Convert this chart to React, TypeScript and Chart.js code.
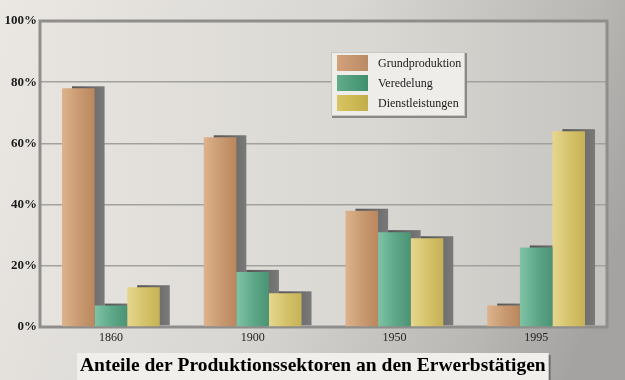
import React, { useEffect, useRef } from "react";
import { Chart, registerables } from "chart.js";

Chart.register(...registerables);

const categories = ["1860", "1900", "1950", "1995"];
const grundproduktion = [78, 62, 38, 7];
const veredelung = [7, 18, 31, 26];
const dienstleistungen = [13, 11, 29, 64];
const seriesNames = ["Grundproduktion", "Veredelung", "Dienstleistungen"];
const yTickValues = [0, 20, 40, 60, 80, 100];
const chartTitle = "Anteile der Produktionssektoren an den Erwerbstätigen";

const barColors = [
  ["#ddb38d", "#c99b72", "#bb875d"],
  ["#80c3a5", "#5fa98a", "#4a9475"],
  ["#e6d78e", "#d6c46c", "#c6b256"],
];
const legendColors = [
  ["#d3a27c", "#b98a64"],
  ["#62ac8a", "#3f8f6d"],
  ["#d8c563", "#c2ae48"],
];

const SERIF = "'Liberation Serif', 'Times New Roman', serif";

const decoPlugin = {
  id: "deco",
  beforeDraw(chart: any) {
    const { ctx, width, height, chartArea: a } = chart;
    ctx.save();
    const bg = ctx.createLinearGradient(0, 0, width, height * 0.6);
    bg.addColorStop(0, "#ebe8e4");
    bg.addColorStop(0.5, "#d9d7d3");
    bg.addColorStop(0.85, "#b9b7b4");
    bg.addColorStop(1, "#a4a3a1");
    ctx.fillStyle = bg;
    ctx.fillRect(0, 0, width, height);
    const pg = ctx.createLinearGradient(a.left, 0, a.right, 0);
    pg.addColorStop(0, "#e7e4df");
    pg.addColorStop(0.6, "#d9d7d2");
    pg.addColorStop(1, "#c6c4c0");
    ctx.fillStyle = pg;
    ctx.fillRect(a.left, a.top, a.right - a.left, a.bottom - a.top);
    ctx.restore();
  },
  beforeDatasetsDraw(chart: any) {
    const { ctx, chartArea: a } = chart;
    ctx.save();
    ctx.strokeStyle = "#8f8e8c";
    ctx.lineWidth = 3;
    ctx.strokeRect(a.left, a.top, a.right - a.left, a.bottom - a.top);
    chart.data.datasets.forEach((_: any, i: number) => {
      const meta = chart.getDatasetMeta(i);
      meta.data.forEach((el: any) => {
        const { x, y, base, width } = el.getProps(["x", "y", "base", "width"], true);
        const l = x - width / 2 + 10;
        const sg = ctx.createLinearGradient(l, 0, l + width, 0);
        sg.addColorStop(0, "#555555");
        sg.addColorStop(1, "#7a7a7a");
        ctx.fillStyle = sg;
        ctx.fillRect(l, y - 2, width, base - y + 1);
      });
    });
    chart.data.datasets.forEach((_: any, i: number) => {
      const meta = chart.getDatasetMeta(i);
      meta.data.forEach((el: any) => {
        const { x, width } = el.getProps(["x", "width"], true);
        const g = ctx.createLinearGradient(x - width / 2, 0, x + width / 2, 0);
        g.addColorStop(0, barColors[i][0]);
        g.addColorStop(0.5, barColors[i][1]);
        g.addColorStop(1, barColors[i][2]);
        el.options.backgroundColor = g;
      });
    });
    ctx.restore();
  },
  afterDraw(chart: any) {
    const { ctx, width } = chart;
    ctx.save();
    const lx = 331, ly = 52, lw = 134, lh = 64;
    ctx.fillStyle = "#8a8987";
    ctx.fillRect(lx + 1, ly + 1, lw + 1, lh + 1);
    ctx.fillStyle = "#efedea";
    ctx.fillRect(lx, ly, lw, lh);
    ctx.strokeStyle = "#c9c7c4";
    ctx.lineWidth = 1;
    ctx.strokeRect(lx + 0.5, ly + 0.5, lw - 1, lh - 1);
    ctx.font = `12px ${SERIF}`;
    ctx.textBaseline = "middle";
    ctx.textAlign = "left";
    chart.data.datasets.forEach((ds: any, i: number) => {
      const cy = ly + 11 + i * 20;
      const g = ctx.createLinearGradient(lx + 6, 0, lx + 37, 0);
      g.addColorStop(0, legendColors[i][0]);
      g.addColorStop(1, legendColors[i][1]);
      ctx.fillStyle = g;
      ctx.fillRect(lx + 6, cy - 8, 31, 16);
      ctx.fillStyle = "#1a1a1a";
      ctx.fillText(ds.label, lx + 47, cy + 1);
    });
    ctx.font = `bold 19.5px ${SERIF}`;
    const tw = ctx.measureText(chartTitle).width;
    const bw = tw + 6;
    const bx = Math.round(width / 2 - bw / 2);
    const by = 353;
    const bh = 27;
    ctx.fillStyle = "#6f6e6c";
    ctx.fillRect(bx + 2, by + 2, bw, bh);
    ctx.fillStyle = "#f1efec";
    ctx.fillRect(bx, by, bw, bh);
    ctx.fillStyle = "#000000";
    ctx.textAlign = "center";
    ctx.textBaseline = "middle";
    ctx.fillText(chartTitle, bx + bw / 2, by + 13);
    ctx.restore();
  },
};

export default function App() {
  const ref = useRef<HTMLCanvasElement>(null);
  useEffect(() => {
    document.body.style.margin = "0";
    const datasets = [grundproduktion, veredelung, dienstleistungen].map((d, i) => ({
      label: seriesNames[i],
      data: d,
      backgroundColor: () => barColors[i][1],
      borderWidth: 0,
      categoryPercentage: 0.69,
      barPercentage: 1,
    }));
    const chart = new Chart(ref.current!, {
      type: "bar",
      data: { labels: categories, datasets },
      plugins: [decoPlugin],
      options: {
        animation: false,
        responsive: false,
        maintainAspectRatio: false,
        layout: { padding: { top: 21, right: 18, left: 0, bottom: 0 } },
        plugins: { legend: { display: false }, title: { display: false }, tooltip: { enabled: false } },
        scales: {
          x: {
            grid: { display: false, drawTicks: false },
            border: { display: false },
            ticks: { color: "#222", font: { family: SERIF, size: 12 }, padding: 4 },
            afterFit: (s: any) => { s.height = 53; },
          },
          y: {
            min: 0,
            max: 100,
            afterBuildTicks: (s: any) => { s.ticks = yTickValues.map((v) => ({ value: v })); },
            grid: { color: "#a3a19e", lineWidth: 1.5, drawTicks: false },
            border: { display: false },
            ticks: {
              color: "#1a1a1a",
              font: { family: SERIF, size: 13, weight: "bold" },
              padding: 3,
              callback: (v: any) => `${v}%`,
            },
            afterFit: (s: any) => { s.width = 40; },
          },
        },
      },
    });
    return () => chart.destroy();
  }, []);
  return (
    <div style={{ position: "fixed", left: 0, top: 0, width: 625, height: 380 }}>
      <canvas ref={ref} width={625} height={380} style={{ display: "block" }} />
    </div>
  );
}
